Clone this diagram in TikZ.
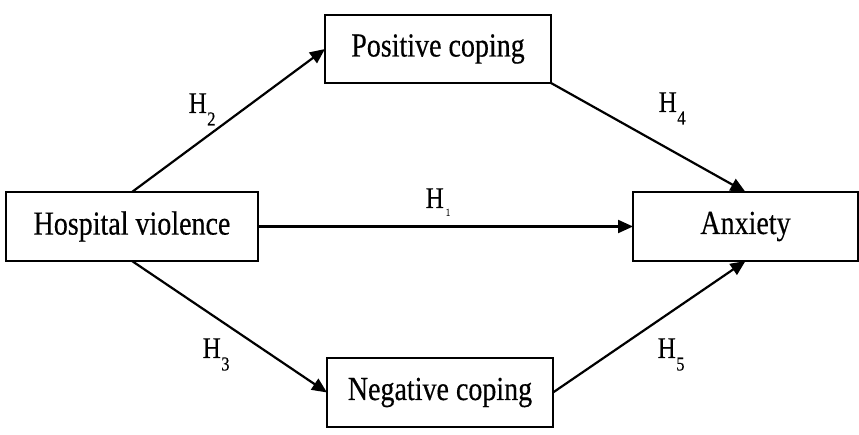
\documentclass[tikz,border=0pt]{standalone}
\usepackage{fontspec}
\setmainfont{Liberation Serif}[FakeBold=0.4]
\usetikzlibrary{arrows.meta}
\newcommand{\vst}[1]{\scalebox{1}[1.2]{#1}}
\newcommand{\hyp}[1]{\vst{\fontsize{25pt}{25pt}\selectfont H}\kern0.5pt\raisebox{-12.5pt}{\vst{\fontsize{16.5pt}{16.5pt}\selectfont #1}}}
\newcommand{\hypsmall}[1]{\vst{\fontsize{25pt}{25pt}\selectfont H}\kern2pt\raisebox{-9pt}{\vst{\fontsize{9pt}{9pt}\selectfont\sffamily #1}}}
\tikzset{
  box/.style={draw, line width=2.6pt, outer sep=0pt, inner sep=0pt, font=\fontsize{28pt}{30pt}\selectfont},
  link/.style={line width=2.2pt, -{Triangle[length=15pt,width=13pt]}},
  hlab/.style={inner sep=0pt, anchor=base west}
}
\begin{document}
\begin{tikzpicture}[x=1pt,y=-1pt]
\useasboundingbox (0,0) rectangle (859,435);
\node[box, minimum width=252pt, minimum height=69pt] (hv) at (132,226.5) {\vst{Hospital violence}};
\node[box, minimum width=226pt, minimum height=68pt] (pc) at (438,49) {\vst{Positive coping}};
\node[box, minimum width=225pt, minimum height=69pt] (ax) at (745.5,226.5) {\vst{Anxiety}};
\node[box, minimum width=226pt, minimum height=69pt] (nc) at (440,392.5) {\vst{Negative coping}};
\draw[link] (hv.north) -- (pc.west);
\draw[link] (hv.south) -- (nc.west);
\draw[link] (hv.east) -- (ax.west);
\draw[link] (pc.south east) -- (ax.north);
\draw[link] (nc.east) -- (ax.south);
\node[hlab] (h1) at (425.5,208) {\hypsmall{1}};
\node[hlab] (h2) at (188.5,113) {\hyp{2}};
\node[hlab] (h3) at (202.5,358) {\hyp{3}};
\node[hlab] (h4) at (658.5,112) {\hyp{4}};
\node[hlab] (h5) at (657.5,358) {\hyp{5}};
\end{tikzpicture}
\end{document}
